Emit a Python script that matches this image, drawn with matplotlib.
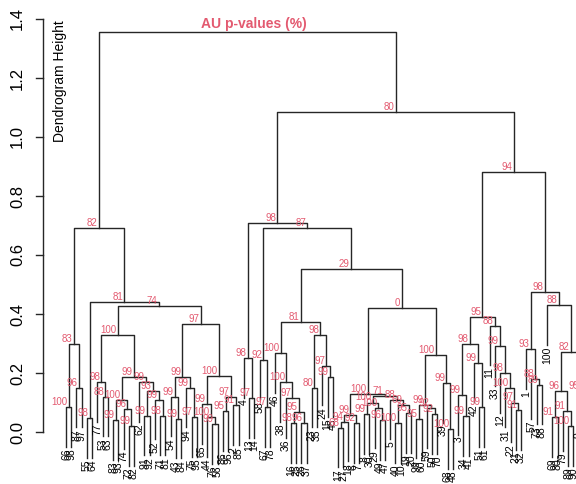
import matplotlib
matplotlib.use('Agg')
import matplotlib.pyplot as plt

plt.rcParams['font.family'] = ['Liberation Sans', 'DejaVu Sans']

# leaf labels in dendrogram order (left to right)
leaf_labels = ['66', '98', '87', '97', '55', '64', '77', '53', '63', '83',
               '93', '74', '72', '82', '62', '91', '92', '52', '71', '81',
               '54', '43', '84', '94', '75', '95', '65', '44', '76', '56',
               '86', '96', '2', '85', '4', '13', '14', '58', '67', '78',
               '46', '38', '36', '16', '25', '26', '37', '23', '35', '24',
               '15', '45', '17', '27', '18', '6', '7', '8', '30', '29',
               '49', '47', '5', '40', '10', '19', '20', '99', '60', '59',
               '50', '70', '39', '68', '48', '3', '34', '41', '42', '51',
               '61', '11', '33', '12', '31', '22', '21', '32', '1', '57',
               '73', '88', '100', '69', '80', '79', '89', '90', '9', '28']

# each merge covers leaves node_lo..node_hi, right child starts at node_split
node_lo = [0, 2, 0, 4, 7, 6, 9, 12, 11, 9, 15, 18, 17, 15, 14, 9, 6, 21, 20, 24,
           23, 20, 28, 27, 26, 30, 32, 30, 26, 20, 6, 4, 0,
           35, 34, 38, 37, 43, 45, 43, 42, 41, 40, 47, 50, 49, 47, 40, 52, 52, 55,
           52, 57, 60, 59, 57, 63, 65, 63, 62, 57, 52, 67, 70, 69, 67, 73, 72, 67,
           52, 40, 37, 34,
           76, 75, 79, 78, 75, 86, 85, 84, 83, 82, 81, 75, 90, 89, 88, 93, 96, 95,
           93, 98, 93, 92, 88, 75, 34, 0]
node_hi = [1, 3, 3, 5, 8, 8, 10, 13, 13, 13, 16, 19, 19, 19, 19, 19, 19, 22, 22, 25,
           25, 25, 29, 29, 29, 31, 33, 33, 33, 33, 33, 33, 33,
           36, 36, 39, 39, 44, 46, 46, 46, 46, 46, 48, 51, 51, 51, 51, 53, 54, 56,
           56, 58, 61, 61, 61, 64, 66, 66, 66, 66, 66, 68, 71, 71, 71, 74, 74, 74,
           74, 74, 74, 74,
           77, 77, 80, 80, 80, 87, 87, 87, 87, 87, 87, 87, 91, 91, 91, 94, 97, 97,
           97, 99, 99, 99, 99, 99, 99, 99]
node_split = [1, 3, 2, 5, 8, 7, 10, 13, 12, 11, 16, 19, 18, 17, 15, 14, 9, 22, 21, 25,
              24, 23, 29, 28, 27, 31, 33, 32, 30, 26, 20, 6, 4,
              36, 35, 39, 38, 44, 46, 45, 43, 42, 41, 48, 51, 50, 49, 47, 53, 54, 56,
              55, 58, 61, 60, 59, 64, 66, 65, 63, 62, 57, 68, 71, 70, 69, 74, 73, 72,
              67, 52, 40, 37,
              77, 76, 80, 79, 78, 87, 86, 85, 84, 83, 82, 81, 91, 90, 89, 94, 97, 96,
              95, 99, 98, 93, 92, 88, 75, 34]
node_height = [0.085, 0.15, 0.30, 0.047, 0.12, 0.17, 0.04, 0.02, 0.078, 0.11,
               0.055, 0.055, 0.11, 0.14, 0.17, 0.186, 0.33, 0.045, 0.12, 0.05,
               0.15, 0.186, 0.027, 0.05, 0.095, 0.07, 0.09, 0.12, 0.19, 0.366,
               0.427, 0.44, 0.69,
               0.115, 0.25, 0.085, 0.245, 0.03, 0.03, 0.068, 0.115, 0.17, 0.267,
               0.15, 0.185, 0.225, 0.33, 0.373, 0.015, 0.035, 0.03, 0.058, 0.06,
               0.04, 0.08, 0.10, 0.03, 0.065, 0.09, 0.11, 0.123, 0.128, 0.045,
               0.06, 0.08, 0.09, 0.01, 0.166, 0.26, 0.42, 0.553, 0.69, 0.707,
               0.054, 0.125, 0.085, 0.235, 0.30, 0.075, 0.10, 0.15, 0.20, 0.29,
               0.36, 0.39, 0.16, 0.18, 0.28, 0.05, 0.02, 0.07, 0.14, 0.14,
               0.27, 0.43, 0.475, 0.88, 1.085, 1.355]
node_au = [100, 96, 83, 98, 88, 98, 99, 99, 96, 100, 99, 98, 99, 93, 99, 99, 100,
           99, 99, 97, 99, 99, 99, 100, 99, 95, 91, 97, 100, 97, 74, 81, 82,
           97, 98, 97, 92, 98, 96, 95, 97, 100, 100, 80, 99, 97, 98, 81, 68, 94,
           92, 99, 99, 96, 100, 100, 100, 95, 69, 88, 71, 100, 95, 92, 92, 99,
           100, 99, 100, 0, 29, 87, 98,
           99, 99, 99, 99, 98, 91, 97, 100, 98, 99, 88, 95, 89, 88, 93, 91, 100,
           91, 96, 95, 82, 88, 98, 94, 80, None]

AU_COL = '#E35A70'
LINE_COL = '#262626'


def drawDendrogram(ax):
    idx = {(lo, hi): k for k, (lo, hi) in enumerate(zip(node_lo, node_hi))}
    hang = 0.1 * (max(node_height) - min(node_height))

    def walk(lo, hi, parent_h):
        if lo == hi:
            y_end = parent_h - hang
            ax.text(lo, y_end - 0.006, leaf_labels[lo], rotation=90,
                    ha='center', va='top', fontsize=7.5)
            return float(lo), y_end
        k = idx[(lo, hi)]
        h = node_height[k]
        xl, yl = walk(lo, node_split[k] - 1, h)
        xr, yr = walk(node_split[k], hi, h)
        ax.plot([xl, xl, xr, xr], [yl, h, h, yr], color=LINE_COL, lw=1.0)
        x = (xl + xr) / 2
        if node_au[k] is not None:
            ax.text(x - 0.25, h, str(node_au[k]), color=AU_COL, fontsize=7,
                    ha='right', va='bottom')
        return x, h

    walk(0, len(leaf_labels) - 1, None)


fig = plt.figure(figsize=(5.76, 4.84), dpi=100)
ax = fig.add_axes([0, 0, 1, 1])

# pixel layout of the original: leaf i at 66 + 5.23*i px, height 0 at 432 px
ax.set_xlim(-66 / 5.23, (576 - 66) / 5.23)
ax.set_ylim((432 - 484) / 295, 432 / 295)

drawDendrogram(ax)

for s in ['top', 'right', 'bottom', 'left']:
    ax.spines[s].set_visible(False)
ax.set_xticks([])
ax.set_yticks([])

# y axis drawn like R's axis()
axis_x = (43 - 66) / 5.23
tick_x = (36 - 66) / 5.23
ticks = [0.0, 0.2, 0.4, 0.6, 0.8, 1.0, 1.2, 1.4]
ax.plot([axis_x, axis_x], [0, 1.4], color=LINE_COL, lw=1.0, clip_on=False)
for t in ticks:
    ax.plot([tick_x, axis_x], [t, t], color=LINE_COL, lw=1.0)
    ax.text((17.5 - 66) / 5.23, t, '%.1f' % t, rotation=90, ha='center',
            va='center', fontsize=12)

ax.text((60 - 66) / 5.23, (432 - 20) / 295, 'Dendrogram Height', rotation=90,
        ha='center', va='top', fontsize=10)
ax.text((253.5 - 66) / 5.23, (432 - 24) / 295, 'AU p-values (%)', color=AU_COL,
        fontsize=10, fontweight='bold', ha='center', va='center')

fig.savefig('out.png', dpi=100)
